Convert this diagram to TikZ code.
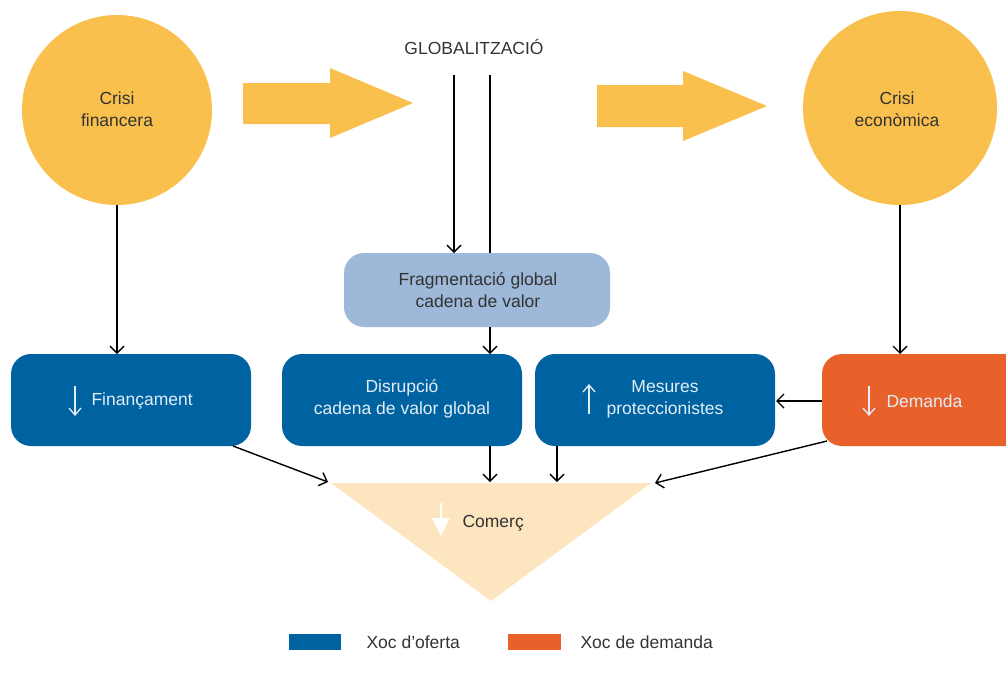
\documentclass[tikz,border=0pt]{standalone}
\usepackage{fontspec}
\setmainfont{Liberation Sans}
\usetikzlibrary{arrows.meta}
\definecolor{sun}{HTML}{F9C04D}
\definecolor{oblue}{HTML}{0063A1}
\definecolor{lblue}{HTML}{9DB8D9}
\definecolor{oorange}{HTML}{E8602A}
\definecolor{peach}{HTML}{FDE5BF}
\definecolor{txtgray}{HTML}{333333}
\definecolor{ltxt}{HTML}{E4EDF6}
\tikzset{
  conn/.style={line width=1.4pt, -{Straight Barb[length=7pt,width=14pt,line width=1.4pt]}},
  plain/.style={line width=1.4pt},
  lbl/.style={font=\fontsize{17.5}{22}\selectfont, align=center},
  wa/.style={draw=ltxt, line width=1.3pt, -{Straight Barb[length=7pt,width=12pt,line width=1.3pt]}},
}
\begin{document}
\begin{tikzpicture}[x=1pt,y=-1pt]
\useasboundingbox (0,0) rectangle (1006,686);
% circles
\fill[sun] (117,110) circle (95);
\fill[sun] (900,108) circle (97);
\node[lbl, text=txtgray] (cfin) at (117,109) {Crisi\\financera};
\node[lbl, text=txtgray] (ceco) at (897,109) {Crisi\\econòmica};
\coordinate (c1b) at (117,205);
\coordinate (c2b) at (900,205);
% big arrows
\fill[sun] (243,83) -- (330,83) -- (330,68) -- (413,103) -- (330,138) -- (330,124) -- (243,124) -- cycle;
\fill[sun] (597,85) -- (683,85) -- (683,71) -- (767,106) -- (683,141) -- (683,127) -- (597,127) -- cycle;
% globalitzacio
\node[lbl, text=txtgray] (glob) at (474,47) {GLOBALITZACIÓ};
\coordinate (g1) at (454,75);
\coordinate (g2) at (490,75);
% fragmentacio
\fill[lblue, rounded corners=20pt] (344,253) rectangle (610,327);
\node[lbl, text=txtgray] (frag) at (478,290) {Fragmentació global\\cadena de valor};
\coordinate (fragT1) at (454,253);
\coordinate (fragT2) at (490,253);
\coordinate (fragB) at (490,327);
% blue boxes
\fill[oblue, rounded corners=20pt] (11,354) rectangle (251,446);
\fill[oblue, rounded corners=20pt] (282,354) rectangle (522,446);
\fill[oblue, rounded corners=20pt] (535,354) rectangle (775,446);
\fill[oorange, rounded corners=20pt] (822,354) rectangle (1026,446);
\node[lbl, text=ltxt, anchor=west] (fin) at (88,401) {Finançament};
\node[lbl, text=ltxt] (dis) at (402,399) {Disrupció\\cadena de valor global};
\node[lbl, text=ltxt] (mes) at (665,399) {Mesures\\proteccionistes};
\node[lbl, text=ltxt, anchor=west] (dem) at (883,401) {Demanda};
\draw[wa] (75,386) -- (75,416);
\draw[wa] (589,414) -- (589,384);
\draw[wa] (869,386) -- (869,416);
% triangle
\fill[peach] (331,483) -- (651,483) -- (491,601) -- cycle;
\node[lbl, text=txtgray, anchor=west] (com) at (459,523) {Comerç};
\draw[white, line width=1.5pt] (441,503) -- (441,520);
\fill[white] (432,518) -- (450,518) -- (441,536) -- cycle;
% connectors
\coordinate (finT) at (117,354);
\coordinate (demT) at (900,354);
\coordinate (disT) at (490,354);
\draw[conn] (c1b) -- (finT);
\draw[conn] (c2b) -- (demT);
\draw[conn] (g1) -- (fragT1);
\draw[plain] (g2) -- (fragT2);
\draw[conn] (fragB) -- (disT);
\coordinate (demL) at (822,401);
\coordinate (mesR) at (776,401);
\draw[conn] (demL) -- (mesR);
\coordinate (finBR) at (233,446);
\coordinate (triL) at (328,482);
\draw[conn] (finBR) -- (triL);
\coordinate (disB) at (490,446);
\coordinate (triM1) at (490,482);
\draw[conn] (disB) -- (triM1);
\coordinate (mesB) at (557,446);
\coordinate (triM2) at (557,482);
\draw[conn] (mesB) -- (triM2);
\coordinate (demBL) at (827,441);
\coordinate (triR) at (655,483);
\draw[conn] (demBL) -- (triR);
% legend
\fill[oblue] (289,634) rectangle (341,650);
\fill[oorange] (508,634) rectangle (561,650);
\node[lbl, text=txtgray, anchor=west] (l1) at (363,642) {Xoc d’oferta};
\node[lbl, text=txtgray, anchor=west] (l2) at (577,642) {Xoc de demanda};
\end{tikzpicture}
\end{document}
